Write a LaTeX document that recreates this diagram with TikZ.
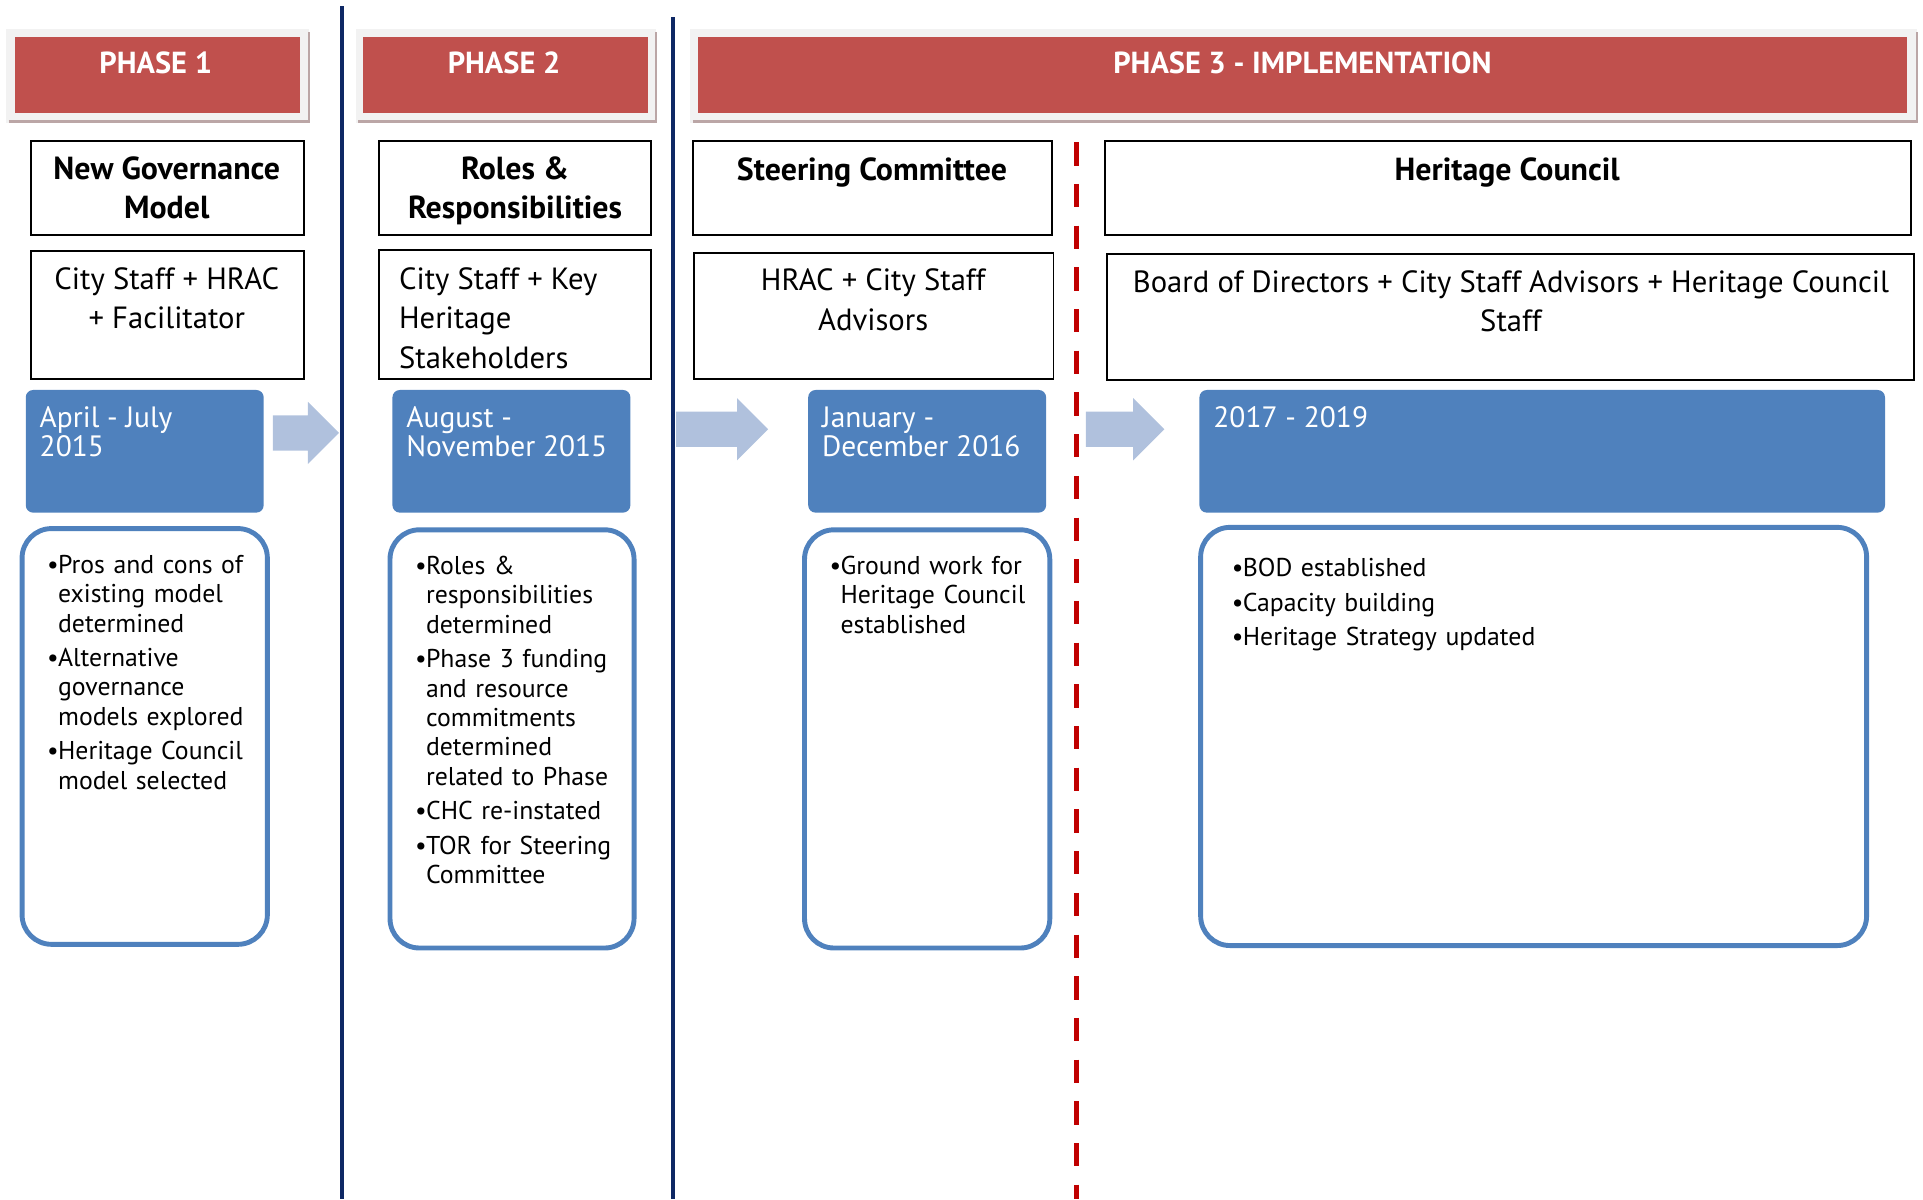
\documentclass[tikz,border=0pt]{standalone}
\usepackage{fontspec}
\setmainfont{PT Sans}
\usetikzlibrary{fit,shapes.arrows}

\definecolor{phasered}{HTML}{C0504D}
\definecolor{framegray}{HTML}{F2F2F2}
\definecolor{shadowgray}{HTML}{BBA6A6}
\definecolor{dateblue}{HTML}{4F81BD}
\definecolor{arrowblue}{HTML}{B0C1DD}
\definecolor{navy}{HTML}{0E2864}
\definecolor{cutred}{HTML}{C00000}

\newlength\bulw \setlength\bulw{4.5pt}
\newcommand\bulitem[1]{\par\hangindent=\bulw\hangafter=1\noindent\makebox[\bulw][l]{\textbullet}#1\par\vspace{2pt}}

\begin{document}
\begin{tikzpicture}[x=0.5pt,y=-0.5pt,
	phasebox/.style={fill=phasered, inner sep=0pt},
	phasetext/.style={text=white, inner sep=0pt, font=\fontsize{12.4}{14}\selectfont\bfseries},
	plainbox/.style={draw=black, line width=0.8pt, fill=white, inner sep=0pt},
	titletext/.style={anchor=north, inner sep=0pt, align=center, font=\fontsize{13}{16}\selectfont\bfseries},
	membertext/.style={anchor=north, inner sep=0pt, align=center, font=\fontsize{12.5}{16}\selectfont},
	datebox/.style={fill=dateblue, rounded corners=3pt, inner sep=0pt},
	datetext/.style={anchor=north west, inner sep=0pt, align=left, text=white, font=\fontsize{12}{12}\selectfont},
	notebox/.style={draw=dateblue, line width=2pt, rounded corners=12pt, fill=white, inner sep=0pt},
	bullets/.style={anchor=north west, inner sep=0pt, text width=96pt, align=left, font=\fontsize{10.5}{12}\selectfont},
	blockarrow/.style={single arrow, fill=arrowblue, inner xsep=0pt, inner ysep=7pt, single arrow head extend=5.5pt, anchor=tail}
	]
	\useasboundingbox (0,0) rectangle (1568,978);

	% dividers
	\draw[navy, line width=1.6pt] (279,5) -- (279,978);
	\draw[navy, line width=1.6pt] (549,14) -- (549,978);
	\draw[cutred, line width=2pt, dash pattern=on 9.5pt off 7.5pt] (878,116) -- (878,978);

	% phase headers
	\fill[framegray] (5,24) rectangle (252,100);
	\draw[shadowgray, line width=1pt] (7,99) -- (252,99) -- (252,26);
	\node[phasebox, fit={(12,30) (245,92)}] (p1) {};
	\node[phasetext] (p1t) at (127,51) {PHASE 1};

	\fill[framegray] (290,24) rectangle (535,100);
	\draw[shadowgray, line width=1pt] (292,99) -- (535,99) -- (535,26);
	\node[phasebox, fit={(296,30) (528,92)}] (p2) {};
	\node[phasetext] (p2t) at (411,51) {PHASE 2};

	\fill[framegray] (563,24) rectangle (1563,100);
	\draw[shadowgray, line width=1pt] (565,99) -- (1563,99) -- (1563,26);
	\node[phasebox, fit={(569,30) (1555,92)}] (p3) {};
	\node[phasetext] (p3t) at (1062,51) {PHASE 3 - IMPLEMENTATION};

	% groups
	\node[plainbox, fit={(25,115) (248,192)}] (g1) {};
	\node[titletext] (g1t) at (136,127) {New Governance\\Model};
	\node[plainbox, fit={(309,115) (531,192)}] (g2) {};
	\node[titletext] (g2t) at (420,127) {Roles \&\\Responsibilities};
	\node[plainbox, fit={(565,115) (858,192)}] (g3) {};
	\node[titletext] (g3t) at (711,128) {Steering Committee};
	\node[plainbox, fit={(901,115) (1558,192)}] (g4) {};
	\node[titletext] (g4t) at (1229,128) {Heritage Council};

	% members
	\node[plainbox, fit={(25,205) (248,309)}] (m1) {};
	\node[membertext] (m1t) at (136,218) {City Staff + HRAC\\+ Facilitator};
	\node[plainbox, fit={(309,204) (531,309)}] (m2) {};
	\node[membertext, anchor=north west, align=left] (m2t) at (325,218) {City Staff + Key\\Heritage\\Stakeholders};
	\node[plainbox, fit={(566,206) (859,309)}] (m3) {};
	\node[membertext] (m3t) at (712,219) {HRAC + City Staff\\Advisors};
	\node[plainbox, fit={(903,207) (1561,310)}] (m4) {};
	\node[membertext] (m4t) at (1232,220) {Board of Directors + City Staff Advisors + Heritage Council\\Staff};

	% dates
	\node[datebox, fit={(21,318) (215,418)}] (d1) {};
	\node[datetext] (d1t) at (32,331) {April - July\\2015};
	\node[datebox, fit={(320,318) (514,418)}] (d2) {};
	\node[datetext] (d2t) at (331,331) {August -\\November 2015};
	\node[datebox, fit={(659,318) (853,418)}] (d3) {};
	\node[datetext] (d3t) at (670,331) {January -\\December 2016};
	\node[datebox, fit={(978,318) (1537,418)}] (d4) {};
	\node[datetext] (d4t) at (989,331) {2017 - 2019};

	\node[blockarrow, minimum height=27pt] (a1) at (222,353) {};
	\node[blockarrow, minimum height=37.5pt] (a2) at (551,350) {};
	\node[blockarrow, minimum height=32pt] (a3) at (885,350) {};

	% notes
	\node[notebox, fit={(18,431) (218,770)}] (n1) {};
	\node[bullets] (n1t) at (38,443) {\bulitem{Pros and cons of\newline existing model\newline determined}\bulitem{Alternative\newline governance\newline models explored}\bulitem{Heritage Council\newline model selected}};
	\node[notebox, fit={(318,432) (517,773)}] (n2) {};
	\node[bullets] (n2t) at (338,444) {\bulitem{Roles \&\newline responsibilities\newline determined}\bulitem{Phase 3 funding\newline and resource\newline commitments\newline determined\newline related to Phase}\bulitem{CHC re-instated}\bulitem{TOR for Steering\newline Committee}};
	\node[notebox, fit={(656,432) (856,773)}] (n3) {};
	\node[bullets] (n3t) at (676,444) {\bulitem{Ground work for\newline Heritage Council\newline established}};
	\node[notebox, fit={(979,430) (1522,771)}] (n4) {};
	\node[bullets, text width=200pt] (n4t) at (1004,446) {\bulitem{BOD established}\bulitem{Capacity building}\bulitem{Heritage Strategy updated}};
\end{tikzpicture}
\end{document}
